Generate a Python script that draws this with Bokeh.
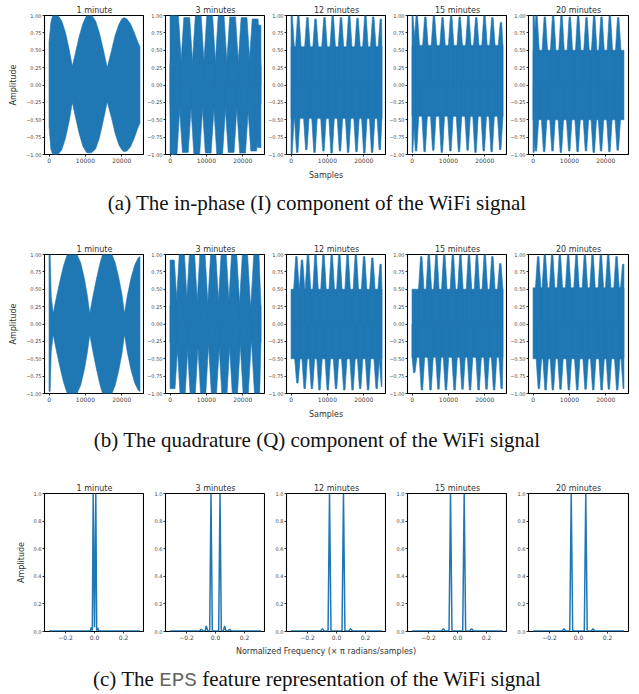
import numpy as np
from bokeh.plotting import figure
from bokeh.layouts import column, row
from bokeh.models import Div, FixedTicker, CustomJSTickFormatter, Range1d
from bokeh.embed import file_html
from bokeh.resources import INLINE

BLUE = "#1f77b4"
FONT = "DejaVu Sans"
N_SAMPLES = 25000

PANEL_TITLES = ["1 minute", "3 minutes", "12 minutes", "15 minutes", "20 minutes"]
TIME_XTICKS = [0, 10000, 20000]
TIME_YTICKS = [-1.0, -0.75, -0.5, -0.25, 0.0, 0.25, 0.5, 0.75, 1.0]
FREQ_XTICKS = [-0.2, 0.0, 0.2]
FREQ_YTICKS = [0.0, 0.2, 0.4, 0.6, 0.8, 1.0]

# ---- 1-minute recordings: amplitude envelope of the dense carrier ----
I1_S = [0, 500, 1000, 1500, 2500, 3500, 4500, 5500, 6400, 7300, 8300, 9300, 10300, 11000,
        11800, 12800, 13800, 14800, 16000, 17200, 18200, 19200, 20000, 20600, 21400, 22400,
        23400, 24400, 25000]
I1_UP = [0.62, 0.9, 1.0, 1.0, 1.0, 0.92, 0.76, 0.52, 0.27, 0.47, 0.7, 0.88, 1.0, 1.0,
         1.0, 0.92, 0.76, 0.54, 0.25, 0.5, 0.72, 0.87, 0.95, 0.97, 0.95, 0.88, 0.76, 0.62, 0.55]
I1_LO = [-0.6, -0.92, -1.0, -1.0, -1.0, -0.93, -0.77, -0.53, -0.25, -0.47, -0.7, -0.88, -0.97,
         -0.98, -0.97, -0.92, -0.77, -0.54, -0.24, -0.48, -0.7, -0.86, -0.93, -0.96, -0.95,
         -0.89, -0.77, -0.62, -0.55]

Q1_S = [0, 300, 600, 1140, 2000, 3000, 4000, 5000, 6400, 7700, 8700, 9700, 10500, 11200,
        12000, 13000, 14000, 14700, 16000, 17300, 18200, 19200, 20000, 20750, 21500, 22500,
        23500, 24500, 25000]
Q1_UP = [1.0, 1.0, 0.4, 0.15, 0.38, 0.62, 0.84, 1.0, 1.0, 1.0, 0.88, 0.66, 0.42, 0.15,
         0.38, 0.64, 0.87, 1.0, 1.0, 1.0, 0.88, 0.66, 0.44, 0.15, 0.4, 0.65, 0.84, 0.95, 0.97]
Q1_LO = [-0.97, -0.97, -0.4, -0.15, -0.38, -0.62, -0.84, -1.0, -1.0, -1.0, -0.88, -0.66, -0.42,
         -0.15, -0.38, -0.64, -0.87, -1.0, -1.0, -1.0, -0.88, -0.66, -0.44, -0.15, -0.4,
         -0.65, -0.84, -0.95, -0.97]

# ---- longer recordings: core band plus periodic bursts (sample index, peak amplitude) ----
I3_BAND = [-0.28, 0.28]
I3_UP_X = [150, 1500, 4600, 7750, 10900, 14050, 17200, 20350, 23400, 24850]
I3_UP_Y = [1.0, 1.0, 0.97, 1.0, 1.0, 1.0, 0.98, 0.97, 0.95, 0.86]
I3_LO_X = [300, 1100, 4200, 7350, 10500, 13650, 16800, 19950, 23000, 24850]
I3_LO_Y = [-1.0, -1.0, -0.97, -1.0, -0.98, -1.0, -0.97, -0.98, -0.95, -0.9]

I12_BAND = [-0.48, 0.55]
I12_UP_X = [150, 2000, 4500, 6740, 9190, 11460, 13730, 16000, 18270, 20450, 22600, 24700]
I12_UP_Y = [1.0, 1.0, 0.97, 0.95, 0.97, 1.0, 0.97, 1.0, 0.96, 1.0, 0.98, 0.95]
I12_LO_X = [100, 1700, 4200, 6450, 8900, 11150, 13450, 15700, 18000, 20150, 22300, 24400]
I12_LO_Y = [-1.0, -0.97, -0.93, -0.97, -0.95, -0.98, -0.95, -0.97, -0.96, -0.98, -0.97, -0.93]

I15_BAND = [-0.45, 0.57]
I15_UP_X = [80, 1300, 3660, 6030, 8390, 10750, 13110, 15480, 17650, 19920, 22090, 24450]
I15_UP_Y = [1.0, 1.0, 0.98, 1.0, 0.97, 1.0, 0.98, 1.0, 0.97, 1.0, 0.97, 0.9]
I15_LO_X = [0, 1100, 3460, 5830, 8190, 10550, 12910, 15280, 17450, 19720, 21890, 24250]
I15_LO_Y = [-0.97, -0.95, -0.96, -0.94, -0.97, -0.95, -0.96, -0.94, -0.97, -0.95, -0.96, -0.93]

I20_BAND = [-0.5, 0.5]
I20_UP_X = [100, 950, 3240, 5530, 7830, 10120, 12410, 14700, 16810, 18830, 21120, 23420]
I20_UP_Y = [1.0, 1.0, 0.98, 1.0, 1.0, 0.98, 1.0, 0.97, 1.0, 0.98, 1.0, 0.97]
I20_LO_X = [100, 800, 3050, 5350, 7650, 9950, 12250, 14550, 16700, 18700, 21000, 23300]
I20_LO_Y = [-0.97, -0.95, -0.96, -0.95, -0.97, -0.95, -0.96, -0.95, -0.97, -0.95, -0.96, -0.94]

Q3_BAND = [-0.27, 0.27]
Q3_UP_X = [450, 3245, 6030, 8910, 11870, 14750, 17630, 20600, 23740]
Q3_UP_Y = [0.92, 1.0, 1.0, 1.0, 1.0, 1.0, 1.0, 1.0, 1.0]
Q3_LO_X = [650, 3450, 6230, 9110, 12070, 14950, 17830, 20800, 23940]
Q3_LO_Y = [-0.93, -1.0, -1.0, -1.0, -1.0, -1.0, -1.0, -1.0, -1.0]

Q12_BAND = [-0.5, 0.5]
Q12_UP_X = [1474, 3018, 4652, 6740, 8920, 11190, 13280, 15550, 17820, 20090, 22360, 24630]
Q12_UP_Y = [0.97, 0.92, 1.0, 1.0, 1.0, 1.0, 1.0, 1.0, 1.0, 0.97, 0.95, 0.86]
Q12_LO_X = [1746, 3744, 5742, 7830, 10100, 12370, 14640, 16910, 19000, 21180, 23540, 25000]
Q12_LO_Y = [-0.85, -0.93, -0.93, -0.95, -0.95, -0.93, -0.95, -0.95, -0.93, -0.95, -0.93, -0.9]

Q15_BAND = [-0.48, 0.5]
Q15_UP_X = [2530, 4610, 6690, 8860, 11220, 13300, 15660, 17840, 20010, 22090, 24260]
Q15_UP_Y = [0.97, 1.0, 1.0, 1.0, 1.0, 1.0, 1.0, 1.0, 1.0, 0.97, 0.87]
Q15_LO_X = [600, 2720, 5080, 7260, 9330, 11700, 13870, 15950, 18310, 20480, 22560, 24640]
Q15_LO_Y = [-0.7, -0.95, -0.95, -0.94, -0.95, -0.95, -0.94, -0.95, -0.95, -0.94, -0.95, -0.93]

Q20_BAND = [-0.5, 0.52]
Q20_UP_X = [1410, 3240, 5260, 7370, 9660, 11950, 14250, 16360, 18650, 20670, 22960, 24800]
Q20_UP_Y = [0.97, 1.0, 1.0, 1.0, 1.0, 1.0, 1.0, 1.0, 1.0, 1.0, 0.97, 0.86]
Q20_LO_X = [1600, 3450, 5450, 7550, 9850, 12150, 14450, 16550, 18850, 20850, 23150, 24950]
Q20_LO_Y = [-0.93, -0.95, -0.95, -0.94, -0.95, -0.95, -0.94, -0.95, -0.95, -0.94, -0.95, -0.93]

# burst half-widths in samples (top, base) for each recording length
WIDE_BURST = (800, 1650)
WIDE_BURST_Q = (720, 1520)
NARROW_BURST = (200, 750)

# ---- EPS feature (normalized spectrum) ----
EPS1_F = [-0.3125, -0.03, -0.022, -0.015, -0.009, 0.0, 0.009, 0.015, 0.022, 0.03, 0.3125]
EPS1_A = [0.004, 0.004, 0.03, 0.006, 1.0, 0.03, 1.0, 0.006, 0.025, 0.004, 0.004]
EPS3_F = [-0.3125, -0.11, -0.097, -0.085, -0.072, -0.063, -0.054, -0.04, -0.031, -0.022,
          0.022, 0.031, 0.04, 0.054, 0.063, 0.072, 0.085, 0.097, 0.11, 0.3125]
EPS3_A = [0.004, 0.004, 0.015, 0.004, 0.004, 0.04, 0.004, 0.004, 1.0, 0.004,
          0.004, 1.0, 0.004, 0.004, 0.04, 0.004, 0.004, 0.015, 0.004, 0.004]
EPS12_F = [-0.3125, -0.11, -0.097, -0.085, -0.058, -0.048, -0.038,
           0.038, 0.048, 0.058, 0.085, 0.097, 0.11, 0.3125]
EPS12_A = [0.004, 0.004, 0.02, 0.004, 0.004, 1.0, 0.004, 0.004, 1.0, 0.004, 0.004, 0.02, 0.004, 0.004]
EPS15_F = [-0.3125, -0.11, -0.097, -0.085, -0.058, -0.048, -0.038,
           0.036, 0.046, 0.056, 0.085, 0.097, 0.11, 0.3125]
EPS15_A = [0.004, 0.004, 0.02, 0.004, 0.004, 1.0, 0.004, 0.004, 1.0, 0.004, 0.004, 0.02, 0.004, 0.004]
EPS20_F = [-0.3125, -0.112, -0.1, -0.088, -0.06, -0.05, -0.04,
           0.04, 0.05, 0.06, 0.088, 0.1, 0.112, 0.3125]
EPS20_A = [0.004, 0.004, 0.02, 0.004, 0.004, 1.0, 0.004, 0.004, 1.0, 0.004, 0.004, 0.02, 0.004, 0.004]

Y2 = "return (tick < 0 ? '\\u2212' : '') + Math.abs(tick).toFixed(2);"
Y1 = "return tick.toFixed(1);"
X0 = "return tick.toFixed(0);"
X1 = "return (tick < 0 ? '\\u2212' : '') + Math.abs(tick).toFixed(1);"


def style_axis(ax, ticks, code, size):
    ax.ticker = FixedTicker(ticks=ticks)
    ax.formatter = CustomJSTickFormatter(code=code)
    ax.axis_line_color = None
    ax.major_tick_line_color = "black"
    ax.major_tick_line_width = 0.8
    ax.major_tick_out = 2
    ax.major_tick_in = 0
    ax.minor_tick_line_color = None
    ax.major_label_text_font = FONT
    ax.major_label_text_font_size = size
    ax.major_label_text_color = "#444444"
    ax.major_label_standoff = 1
    ax.axis_label_text_font = FONT
    ax.axis_label_text_font_size = "8px"
    ax.axis_label_text_font_style = "normal"
    ax.axis_label_text_color = "#333333"


def panel(col, title, xr, yr, top, bottom, frame_h, xticks, xcode, yticks, ycode):
    p = figure(title=title, frame_width=100, frame_height=frame_h,
               x_range=xr, y_range=yr,
               min_border_left=44 if col == 0 else 21,
               min_border_right=11 if col == 4 else 0,
               min_border_top=top, min_border_bottom=bottom,
               output_backend="svg", toolbar_location=None)
    p.title.align = "center"
    p.title.text_font = FONT
    p.title.text_font_size = "8px"
    p.title.text_font_style = "normal"
    p.title.text_color = "#333333"
    p.title.standoff = 2
    p.outline_line_color = "black"
    p.outline_line_width = 1.1
    p.xgrid.visible = False
    p.ygrid.visible = False
    p.background_fill_color = "white"
    p.border_fill_color = "white"
    style_axis(p.xaxis[0], xticks, xcode, "6px")
    style_axis(p.yaxis[0], yticks, ycode, "5px")
    if col == 0:
        p.yaxis.axis_label = "Amplitude"
        p.yaxis.axis_label_standoff = 5
    return p


def envelope_panel(p, s, up, lo):
    xs = list(s) + list(s)[::-1]
    ys = list(up) + list(lo)[::-1]
    p.patch(xs, ys, fill_color=BLUE, line_color=BLUE, line_width=0.6)


def burst_panel(p, band, ux, uy, lx, ly, widths):
    hw_t, hw_b = widths
    p.quad(left=0, right=N_SAMPLES, bottom=band[0], top=band[1],
           fill_color=BLUE, line_color=BLUE, line_width=0.6)
    xs, ys = [], []
    for centers, peaks, edge in ((ux, uy, band[1]), (lx, ly, band[0])):
        for c, h in zip(centers, peaks):
            px = np.clip([c - hw_b, c - hw_t, c + hw_t, c + hw_b, c + hw_b, c - hw_b], 0, N_SAMPLES)
            xs.append(list(px))
            ys.append([edge, h, h, edge, 0.0, 0.0])
    p.patches(xs, ys, fill_color=BLUE, line_color=BLUE, line_width=0.6)


def time_row(top, env, bursts):
    figs = []
    for col, title in enumerate(PANEL_TITLES):
        p = panel(col, title, Range1d(-1250, 26250), Range1d(-1.0, 1.0), top, 12, 139,
                  TIME_XTICKS, X0, TIME_YTICKS, Y2)
        if col == 0:
            envelope_panel(p, *env)
        else:
            burst_panel(p, *bursts[col - 1])
        figs.append(p)
    return figs


row_i = time_row(15, (I1_S, I1_UP, I1_LO), [
    (I3_BAND, I3_UP_X, I3_UP_Y, I3_LO_X, I3_LO_Y, WIDE_BURST),
    (I12_BAND, I12_UP_X, I12_UP_Y, I12_LO_X, I12_LO_Y, NARROW_BURST),
    (I15_BAND, I15_UP_X, I15_UP_Y, I15_LO_X, I15_LO_Y, NARROW_BURST),
    (I20_BAND, I20_UP_X, I20_UP_Y, I20_LO_X, I20_LO_Y, NARROW_BURST),
])
row_q = time_row(26, (Q1_S, Q1_UP, Q1_LO), [
    (Q3_BAND, Q3_UP_X, Q3_UP_Y, Q3_LO_X, Q3_LO_Y, WIDE_BURST_Q),
    (Q12_BAND, Q12_UP_X, Q12_UP_Y, Q12_LO_X, Q12_LO_Y, NARROW_BURST),
    (Q15_BAND, Q15_UP_X, Q15_UP_Y, Q15_LO_X, Q15_LO_Y, NARROW_BURST),
    (Q20_BAND, Q20_UP_X, Q20_UP_Y, Q20_LO_X, Q20_LO_Y, NARROW_BURST),
])

row_eps = []
for col, (f, a) in enumerate([(EPS1_F, EPS1_A), (EPS3_F, EPS3_A), (EPS12_F, EPS12_A),
                              (EPS15_F, EPS15_A), (EPS20_F, EPS20_A)]):
    p = panel(col, PANEL_TITLES[col], Range1d(-0.344, 0.344), Range1d(0.0, 1.0), 25, 11, 138,
              FREQ_XTICKS, X1, FREQ_YTICKS, Y1)
    p.line(f, a, line_color=BLUE, line_width=1.5)
    row_eps.append(p)


def axis_title(text, height):
    # shared x-axis title, centred under the whole row of panels
    style = ("margin-left:13px;width:626px;height:%dpx;line-height:%dpx;text-align:center;"
             "white-space:nowrap;font-family:'DejaVu Sans';font-size:8px;color:#333333;"
             % (height, height))
    return Div(text='<div style="%s">%s</div>' % (style, text), width=639, height=height,
               margin=(0, 0, 0, 0))


def caption(html, height, line_h):
    style = ("width:634px;height:%dpx;line-height:%dpx;text-align:center;white-space:nowrap;"
             "font-family:'Liberation Serif',serif;font-size:21px;color:#111111;" % (height, line_h))
    return Div(text='<div style="%s">%s</div>' % (style, html), width=639, height=height,
               margin=(0, 0, 0, 0))


xl_a = axis_title("Samples", 8)
xl_b = axis_title("Samples", 8)
xl_c = axis_title("Normalized Frequency (\u00d7 \u03c0 radians/samples)", 10)

cap_a = caption("(a) The in-phase (I) component of the WiFi signal", 54, 58)
cap_b = caption("(b) The quadrature (Q) component of the WiFi signal", 55, 54)
cap_c = caption("(c) The <span style=\"font-family:'Liberation Mono',monospace;color:#666666;\">EPS</span>"
                " feature representation of the WiFi signal", 42, 54)

layout = column(row(*row_i), xl_a, cap_a, row(*row_q), xl_b, cap_b, row(*row_eps), xl_c, cap_c)

with open("out.html", "w", encoding="utf-8") as fh:
    fh.write(file_html(layout, INLINE))
